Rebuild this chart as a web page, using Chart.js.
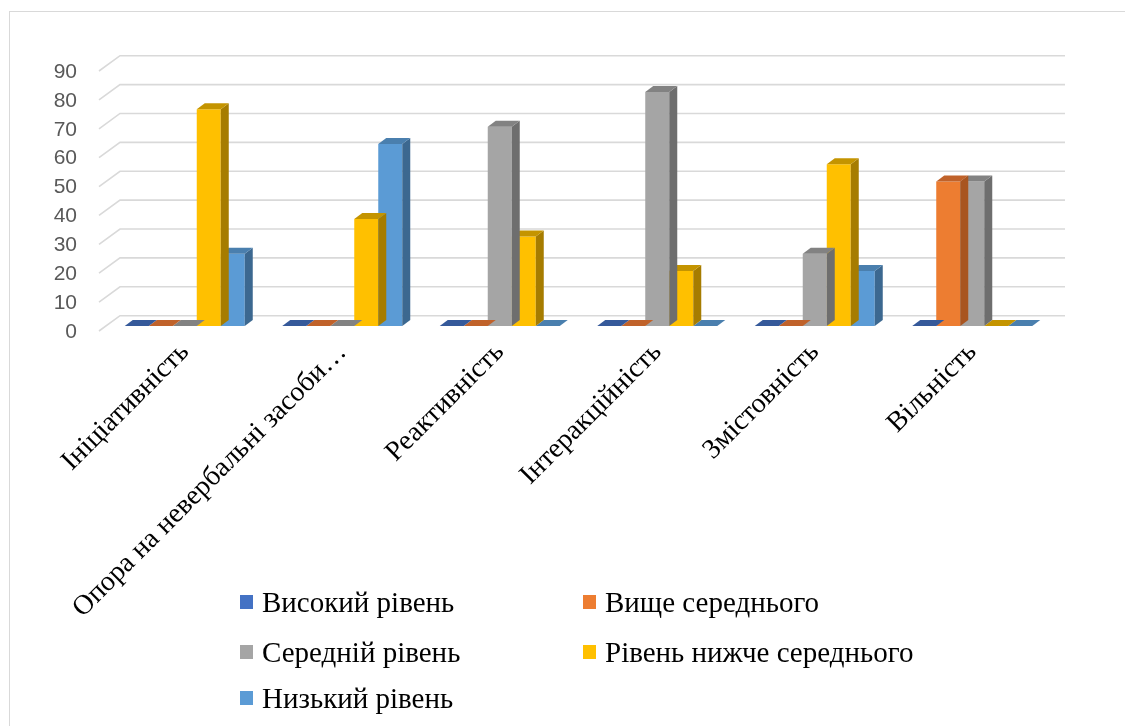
<!DOCTYPE html>
<html>
<head>
<meta charset="utf-8">
<script src="https://cdn.jsdelivr.net/npm/chart.js@4.4.1/dist/chart.umd.min.js"></script>
<style>
  html, body { margin: 0; padding: 0; background: #fff; overflow: hidden; }
  #wrap { position: relative; width: 1125px; height: 726px; }
  #frame { position: absolute; left: 9px; top: 11px; width: 1200px; height: 800px; border: 1px solid #d9d9d9; }
  #chart { position: absolute; left: 0; top: 0; }
  .item { position: absolute; display: flex; align-items: center; height: 34px; }
  .box { width: 13px; height: 14px; margin-right: 9px; flex: none; }
  .txt { font-family: "Liberation Serif", serif; font-size: 29px; color: #000; white-space: nowrap; }
</style>
</head>
<body>
<div id="wrap">
  <div id="frame"></div>
  <canvas id="chart" width="1125" height="726"></canvas>
  <div id="legend"></div>
</div>
<script>
// категорії та ряди
const categories = ["Ініціативність", "Опора на невербальні засоби…", "Реактивність", "Інтеракційність", "Змістовність", "Вільність"];
const seriesNames = ["Високий рівень", "Вище середнього", "Середній рівень", "Рівень нижче середнього", "Низький рівень"];
const highLevel    = [0, 0, 0, 0, 0, 0];
const aboveAverage = [0, 0, 0, 0, 0, 50];
const averageLevel = [0, 0, 69, 81, 25, 50];
const belowAverage = [75, 37, 31, 19, 56, 0];
const lowLevel     = [25, 63, 0, 0, 19, 0];
const yMax = 90;
const yStep = 10;

const frontColors = ["#4472C4", "#ED7D31", "#A5A5A5", "#FFC000", "#5B9BD5"];
const topColors   = ["#35599a", "#c0622a", "#828282", "#c49400", "#4a7fae"];
const sideColors  = ["#2e4f88", "#a85520", "#6e6e6e", "#a67c00", "#3c6890"];

// 3D зсуви
const DX = 8, DY = 6;
const BACK_X = 14, BACK_Y = 10.3, FRONT_X = -7, FRONT_Y = 5;

const threeD = {
  id: "threeD",
  beforeDatasetsDraw(chart) {
    const { ctx, chartArea, scales } = chart;
    const y = scales.y;
    ctx.save();
    ctx.strokeStyle = "#d9d9d9";
    ctx.lineWidth = 1.6;
    y.ticks.forEach(t => {
      const py = y.getPixelForValue(t.value);
      ctx.beginPath();
      ctx.moveTo(chartArea.left + FRONT_X, py + FRONT_Y);
      ctx.lineTo(chartArea.left + BACK_X, py - BACK_Y);
      ctx.lineTo(chartArea.right + BACK_X, py - BACK_Y);
      ctx.stroke();
    });
    ctx.restore();
  },
  afterDatasetDraw(chart, args) {
    const ctx = chart.ctx;
    const i = args.index;
    ctx.save();
    args.meta.data.forEach(bar => {
      const p = bar.getProps(["x", "y", "base", "width"], true);
      const l = p.x - p.width / 2, r = p.x + p.width / 2;
      if (p.base - p.y > 0.5) {
        ctx.fillStyle = sideColors[i];
        ctx.beginPath();
        ctx.moveTo(r, p.y);
        ctx.lineTo(r + DX, p.y - DY);
        ctx.lineTo(r + DX, p.base - DY);
        ctx.lineTo(r, p.base);
        ctx.closePath();
        ctx.fill();
      }
      ctx.fillStyle = topColors[i];
      ctx.beginPath();
      ctx.moveTo(l, p.y);
      ctx.lineTo(r, p.y);
      ctx.lineTo(r + DX, p.y - DY);
      ctx.lineTo(l + DX, p.y - DY);
      ctx.closePath();
      ctx.fill();
    });
    ctx.restore();
  }
};

const seriesData = [highLevel, aboveAverage, averageLevel, belowAverage, lowLevel];

const chart = new Chart(document.getElementById("chart"), {
  type: "bar",
  data: {
    labels: categories,
    datasets: seriesData.map((d, i) => ({
      label: seriesNames[i],
      data: d,
      backgroundColor: frontColors[i],
      borderWidth: 0,
      barPercentage: 1,
      categoryPercentage: 0.762
    }))
  },
  options: {
    responsive: false,
    animation: false,
    devicePixelRatio: 1,
    layout: { padding: { left: 10, top: 66, right: 74, bottom: 0 } },
    plugins: { legend: { display: false }, tooltip: { enabled: false } },
    scales: {
      x: {
        grid: { display: false, drawTicks: false },
        border: { display: false },
        afterFit(scale) { scale.height = 400; },
        ticks: {
          autoSkip: false,
          minRotation: 45,
          maxRotation: 45,
          padding: 10,
          color: "#000",
          font: { family: "Liberation Serif", size: 28 }
        }
      },
      y: {
        min: 0,
        max: yMax,
        grid: { display: false, drawTicks: false },
        border: { display: false },
        afterFit(scale) { scale.width = 96; },
        ticks: {
          stepSize: yStep,
          padding: 29,
          labelOffset: 6,
          color: "#595959",
          font: { family: "Liberation Sans", size: 21 }
        }
      }
    }
  },
  plugins: [threeD]
});

// легенда у дві колонки
const legendPos = [[240, 602], [583, 602], [240, 652], [583, 652], [240, 698]];
const legend = document.getElementById("legend");
chart.data.datasets.forEach((ds, i) => {
  const it = document.createElement("div");
  it.className = "item";
  it.style.left = legendPos[i][0] + "px";
  it.style.top = (legendPos[i][1] - 17) + "px";
  it.innerHTML = '<span class="box" style="background:' + ds.backgroundColor + '"></span><span class="txt">' + ds.label + "</span>";
  legend.appendChild(it);
});
</script>
</body>
</html>
